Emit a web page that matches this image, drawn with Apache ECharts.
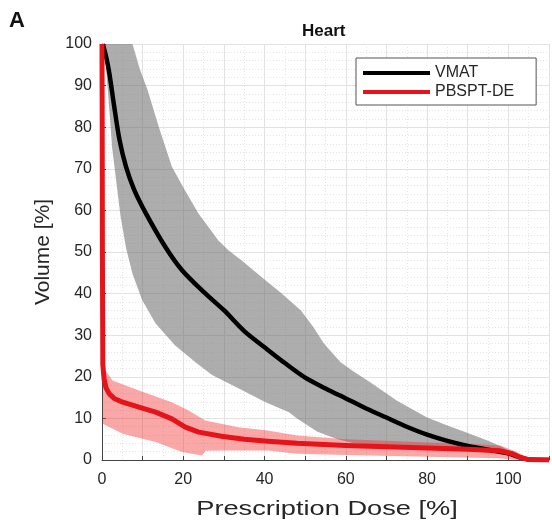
<!DOCTYPE html>
<html>
<head>
<meta charset="utf-8">
<script src="https://cdn.jsdelivr.net/npm/echarts@6/dist/echarts.min.js"></script>
<style>html,body{margin:0;padding:0;background:#fff;}#c{width:552px;height:524px;}</style>
</head>
<body>
<div id="c"></div>
<script>
// ---- data ----
const xTickLabels = [0, 20, 40, 60, 80, 100];
const seriesNames = ['VMAT', 'PBSPT-DE'];

const vmatDose  = [0.2, 1, 1.8, 3, 4.3, 5.9, 7.9, 10.8, 15.6, 19.7, 25, 30, 35, 40, 45, 50, 55, 60, 65, 70, 75, 80, 85, 90, 95, 100, 103, 106, 110];
const vmatMean  = [100, 97, 93, 85, 77, 70.5, 65, 59.3, 51.2, 45.6, 40.4, 36, 31, 27.1, 23.3, 19.8, 17.2, 14.8, 12.4, 10.2, 8.0, 6.1, 4.6, 3.4, 2.5, 1.6, 0.6, 0, 0];

const vmatUpperDose = [7.5, 9.3, 11.2, 14, 17.2, 20.3, 23.7, 28.6, 31.1, 34.3, 40, 44, 48.9, 52, 54.6, 58.7, 62, 66, 72.5, 80, 85, 90, 95, 98.5, 101.7, 104, 106];
const vmatUpper     = [100, 94, 89, 80, 70.5, 65, 59.3, 52.8, 50.4, 48, 43.4, 40.2, 36, 32, 28, 23.5, 21.2, 18.7, 14.3, 10.2, 8.3, 6.5, 4.6, 3.1, 1.5, 0.3, 0];
const vmatLowerDose = [0.5, 1.5, 2.5, 3.5, 4.5, 5.9, 7.5, 9.9, 13.2, 18, 23, 27, 30, 35, 40, 44, 46, 48, 53, 58, 62, 70, 80, 90, 98, 102, 105];
const vmatLower     = [100, 88, 75, 67, 59, 51, 44.8, 38.4, 32.8, 27.5, 23.5, 20.5, 19, 16.5, 14, 12.3, 11.5, 10, 6.8, 5, 4, 3.5, 3, 2.3, 1.4, 0.5, 0];

const pbsDose = [0, 0.05, 0.1, 0.2, 0.5, 1.0, 1.8, 3.0, 5.1, 9.1, 13.2, 17.2, 20.5, 23.8, 29.4, 35, 40.8, 48, 60, 70, 80, 90, 98, 101, 103, 105, 110];
const pbsMean = [100, 80, 50, 23, 19.5, 17.3, 15.9, 14.8, 13.9, 12.7, 11.5, 9.9, 7.9, 6.7, 5.7, 5, 4.5, 4.0, 3.5, 3.2, 2.9, 2.6, 2.2, 1.5, 0.6, 0.1, 0];

const pbsUpperDose = [0, 0.3, 0.6, 2.6, 9.1, 17.2, 21.3, 25.4, 33.5, 40.8, 48, 60, 70, 80, 90, 98, 102, 105, 110];
const pbsUpper     = [100, 40, 21.9, 19.1, 16.7, 13.9, 11.9, 9.5, 7.9, 7.1, 5.9, 5.0, 4.6, 4.2, 3.9, 3.5, 2.0, 0.4, 0];
const pbsLowerDose = [0, 0.1, 0.2, 5.1, 13.2, 19.7, 24.6, 25.5, 30, 40.8, 48, 60, 80, 98, 102, 110];
const pbsLower     = [100, 40, 8.7, 6.3, 4.3, 1.9, 1.1, 2.2, 2.3, 2.3, 1.5, 1.2, 0.8, 0.4, 0, 0];

// ---- helpers ----
function pairs(xs, ys) { return xs.map((x, i) => [x, ys[i]]); }
function bandRenderer(ux, uy, lx, ly, fill) {
  return function (params, api) {
    const pts = [];
    for (let i = 0; i < ux.length; i++) pts.push(api.coord([ux[i], uy[i]]));
    for (let i = lx.length - 1; i >= 0; i--) pts.push(api.coord([lx[i], ly[i]]));
    return { type: 'polygon', shape: { points: pts }, style: { fill: fill } };
  };
}

const FONT = 'Liberation Sans';
const TXT = '#262626';

const chart = echarts.init(document.getElementById('c'), null, { renderer: 'canvas' });
chart.setOption({
  animation: false,
  backgroundColor: '#fff',
  title: [
    { text: 'A', left: 9, top: 10, padding: 0,
      textStyle: { fontFamily: FONT, fontSize: 22, fontWeight: 'bold', color: '#111' } },
    { text: 'Heart', left: 302, top: 23, padding: 0,
      textStyle: { fontFamily: FONT, fontSize: 17, fontWeight: 'bold', color: '#111' } }
  ],
  legend: {
    orient: 'vertical', left: 356, top: 58,
    icon: 'rect', itemWidth: 67, itemHeight: 4, itemGap: 1,
    padding: [6, 22, 4, 7],
    borderColor: '#555', borderWidth: 1, backgroundColor: '#fff',
    textStyle: { fontFamily: FONT, fontSize: 16, color: TXT, lineHeight: 18 },
    data: seriesNames
  },
  grid: { left: 102, top: 44, width: 452, height: 416, containLabel: false },
  xAxis: {
    type: 'value', min: 0, max: 110, interval: 10,
    axisLine: { show: true, onZero: false, lineStyle: { color: '#444', width: 1 } },
    axisTick: { show: true, inside: true, length: 4, lineStyle: { color: '#444' } },
    axisLabel: {
      margin: 12, fontFamily: FONT, fontSize: 16, color: TXT,
      formatter: v => (xTickLabels.indexOf(v) >= 0 ? String(v) : '')
    },
    splitLine: { show: true, lineStyle: { color: '#e2e2e2', width: 1 } },
    minorTick: { show: false, splitNumber: 2 },
    minorSplitLine: { show: true, lineStyle: { color: '#e6e6e6', type: [1, 2], width: 1 } }
  },
  yAxis: {
    type: 'value', min: 0, max: 100, interval: 10,
    name: 'Volume [%]', nameLocation: 'middle', nameGap: 48,
    nameTextStyle: { fontFamily: FONT, fontSize: 21, color: TXT },
    axisLine: { show: true, lineStyle: { color: '#444', width: 1 } },
    axisTick: { show: true, inside: true, length: 4, lineStyle: { color: '#444' } },
    axisLabel: { margin: 10, fontFamily: FONT, fontSize: 16, color: TXT },
    splitLine: { show: true, lineStyle: { color: '#e2e2e2', width: 1 } },
    minorTick: { show: false, splitNumber: 5 },
    minorSplitLine: { show: true, lineStyle: { color: '#e6e6e6', type: [1, 2], width: 1 } }
  },
  graphic: [
    { type: 'text', x: 327, y: 509, scaleX: 1.36, z: 10,
      style: { text: 'Prescription Dose [%]', font: '20px "Liberation Sans"', fill: TXT,
               align: 'center', verticalAlign: 'middle' } }
  ],
  series: [
    { type: 'custom', name: 'VMAT band', coordinateSystem: 'cartesian2d', silent: true, z: 1,
      data: [[0, 0]], encode: { x: 0, y: 1 },
      renderItem: bandRenderer(vmatUpperDose, vmatUpper, vmatLowerDose, vmatLower, 'rgba(105,105,105,0.55)') },
    { type: 'custom', name: 'PBSPT band', coordinateSystem: 'cartesian2d', silent: true, z: 1,
      data: [[0, 0]], encode: { x: 0, y: 1 },
      renderItem: bandRenderer(pbsUpperDose, pbsUpper, pbsLowerDose, pbsLower, 'rgba(240,45,45,0.42)') },
    { type: 'line', name: seriesNames[0], data: pairs(vmatDose, vmatMean), z: 3,
      symbol: 'none', showSymbol: false, smooth: 0.3,
      lineStyle: { color: '#000', width: 4.5 }, itemStyle: { color: '#000' } },
    { type: 'line', name: seriesNames[1], data: pairs(pbsDose, pbsMean), z: 4,
      symbol: 'none', showSymbol: false, smooth: false,
      lineStyle: { color: '#e5141a', width: 5, join: 'round' }, itemStyle: { color: '#e5141a' } }
  ]
});
</script>
</body>
</html>
